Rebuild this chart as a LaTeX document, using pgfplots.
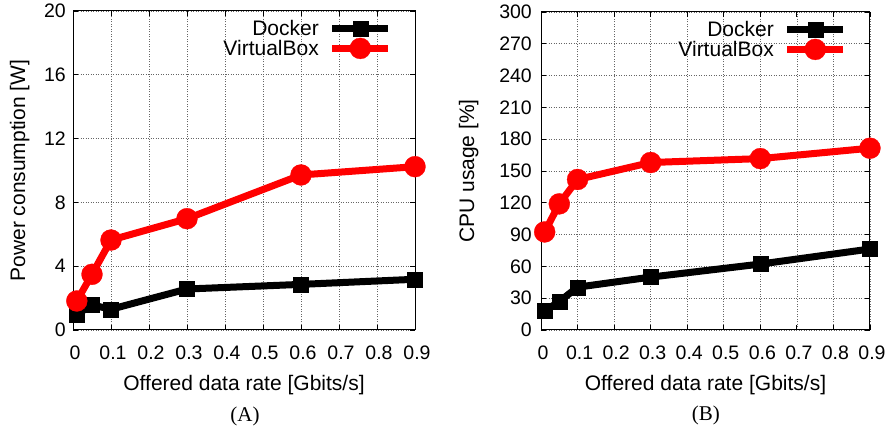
\documentclass[border=0pt]{standalone}
\usepackage{fontspec}
\setmainfont{Liberation Sans}
\newfontfamily\capfont{Liberation Serif}
\usepackage{pgfplots}
\pgfplotsset{compat=1.18}

\tikzset{subcaption/.style={font=\capfont\fontsize{21bp}{23bp}\selectfont}}

\pgfplotsset{
  gnu/.style={
    scale only axis,
    clip mode=individual,
    xmin=0, xmax=0.9,
    xtick={0,0.1,...,0.9},
    /pgf/number format/fixed,
    /pgf/number format/assume math mode=true,
    tick align=inside,
    tick pos=both,
    major tick length=5bp,
    axis line style={line width=1bp},
    every tick/.style={line width=0.8bp, black},
    grid=major,
    grid style={line width=0.6bp, black!60, dash pattern=on 1bp off 1.5bp},
    ticklabel style={font=\fontsize{19.5bp}{21bp}\selectfont, inner sep=0pt},
    xticklabel style={yshift=-16bp, xshift=2bp},
    label style={font=\fontsize{21bp}{23bp}\selectfont},
    xlabel={Offered data rate [Gbits/s]},
    legend style={draw=none, fill=none, at={(axis description cs:1,1)},
      anchor=north east, inner sep=0pt, row sep=1bp, column sep=10bp,
      font=\fontsize{21bp}{23bp}\selectfont,
      nodes={inner sep=0pt}},
    legend cell align=right,
    legend plot pos=right,
    legend image code/.code={
      \draw[mark repeat=2, mark phase=2, ##1]
        plot coordinates {(0bp,0bp) (28bp,0bp) (56bp,0bp)};
    },
  },
  docker/.style={black, line width=7bp, mark=square*,
    mark size=7.5bp, mark options={solid, line width=0.3bp}},
  vbox/.style={red, line width=7bp, mark=*,
    mark size=10.5bp, mark options={solid, line width=0.3bp}},
}

\begin{document}
\begin{tikzpicture}
\path (0bp,0bp) rectangle (888bp,437bp);

% (A) power
\begin{axis}[gnu,
  at={(73bp,107bp)}, anchor=south west,
  width=342bp, height=319bp,
  ymin=0, ymax=20, ytick={0,4,...,20},
  yticklabel style={xshift=-7bp},
  ylabel={Power consumption [W]},
  xlabel style={at={(axis description cs:0.5,-0.172)}, anchor=center},
  ylabel style={at={(axis description cs:-0.156,0.5)}, anchor=center},
  legend style={xshift=-23bp, yshift=-9bp},
]
\addplot[docker] coordinates {
  (0.01,0.98) (0.05,1.57) (0.1,1.30) (0.3,2.57) (0.6,2.86) (0.9,3.18)
};
\addlegendentry{Docker}
\addplot[vbox] coordinates {
  (0.01,1.82) (0.05,3.49) (0.1,5.64) (0.3,6.98) (0.6,9.72) (0.9,10.24)
};
\addlegendentry{VirtualBox}
\node[subcaption] at (axis description cs:0.503,-0.27) {(A)};
\end{axis}

% (B) CPU
\begin{axis}[gnu,
  at={(541bp,107bp)}, anchor=south west,
  width=329bp, height=318bp,
  ymin=0, ymax=300, ytick={0,30,...,300},
  yticklabel style={xshift=-9bp},
  ylabel={CPU usage [\%]},
  xlabel style={at={(axis description cs:0.5,-0.172)}, anchor=center},
  ylabel style={at={(axis description cs:-0.22,0.5)}, anchor=center},
  legend style={xshift=-23bp, yshift=-9bp},
]
\addplot[docker] coordinates {
  (0.01,18) (0.05,26.8) (0.1,40.4) (0.3,49.9) (0.6,62.2) (0.9,76.4)
};
\addlegendentry{Docker}
\addplot[vbox] coordinates {
  (0.01,92.5) (0.05,119) (0.1,142) (0.3,158) (0.6,161.7) (0.9,171.5)
};
\addlegendentry{VirtualBox}
\node[subcaption] at (axis description cs:0.5015,-0.27) {(B)};
\end{axis}
\end{tikzpicture}
\end{document}
